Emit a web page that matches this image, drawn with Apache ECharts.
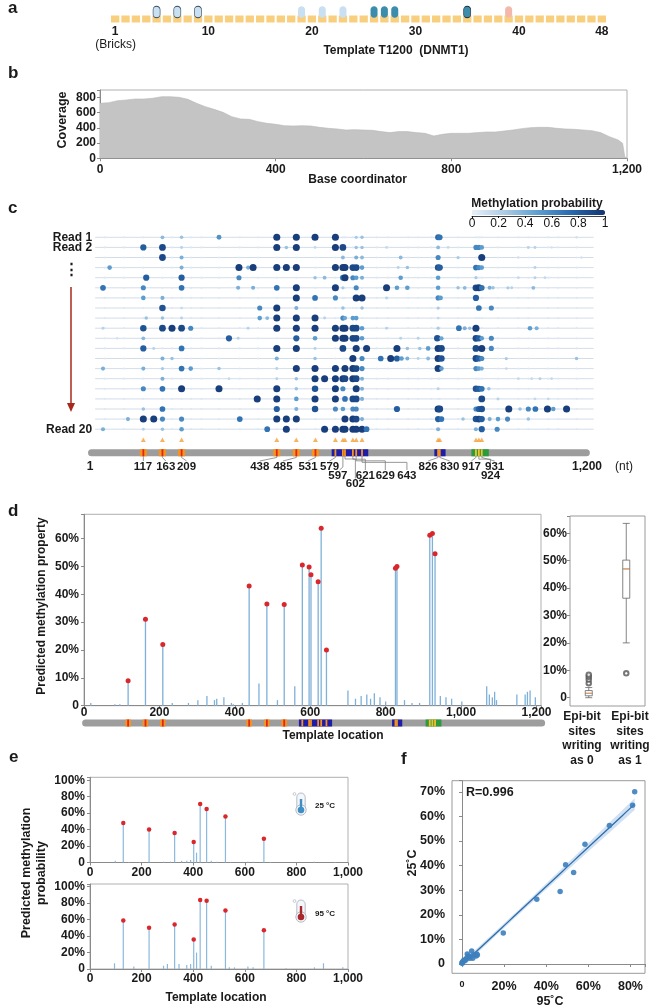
<!DOCTYPE html>
<html>
<head>
<meta charset="utf-8">
<script src="https://cdn.jsdelivr.net/npm/echarts@6/dist/echarts.min.js"></script>
<style>
  html, body { margin: 0; padding: 0; background: #fff; }
  #chart { width: 652px; height: 1008px; }
</style>
</head>
<body>
<div id="chart"></div>
<script>
// ---------- a: bricks of template T1200 ----------
const brickIds = [1,2,3,4,5,6,7,8,9,10,11,12,13,14,15,16,17,18,19,20,21,22,23,24,
  25,26,27,28,29,30,31,32,33,34,35,36,37,38,39,40,41,42,43,44,45,46,47,48];
const brickTicks = [1, 10, 20, 30, 40, 48];
const capsuleBricks = [5, 7, 9, 19, 21, 23, 26, 27, 28, 35, 39];
const capsuleKind = ['lightO', 'lightO', 'lightO', 'light', 'light', 'light', 'teal', 'teal', 'teal', 'tealO', 'pink'];

// ---------- b: coverage ----------
const coverPos = [0,20,40,60,80,100,120,140,160,180,200,220,240,260,280,300,320,340,360,380,400,
  420,440,460,480,500,520,540,560,580,600,620,640,660,680,700,720,740,760,780,800,820,840,860,880,
  900,920,940,960,980,1000,1020,1040,1060,1080,1100,1120,1140,1160,1180,1190,1195,1200];
const coverVal = [721,730,756,765,778,778,787,808,808,800,774,721,677,642,603,546,516,511,481,459,446,
  428,424,428,424,406,393,385,371,376,371,367,350,337,350,350,337,328,293,315,328,328,328,337,345,
  345,358,371,389,402,406,406,393,385,380,371,363,337,284,240,197,20,0];

// ---------- c: per-read methylation calls ----------
const epiSites = [117, 163, 209, 438, 485, 531, 579, 597, 602, 621, 629, 643, 826, 830, 917, 924, 931];
const siteLabelPos = [116, 171, 221, 397, 453, 513, 565, 585, 627, 651, 699, 751, 802, 854, 906, 952, 962];
const siteLabelRow = [1, 1, 1, 1, 1, 1, 1, 2, 3, 2, 2, 2, 1, 1, 1, 2, 1];
const redSites = [117, 163, 209, 438, 485, 531];
const templateBlocks = [[570, 658], [817, 844], [906, 948]];
const blockKinds = ['blue', 'blue', 'green'];
const bgSites = [24, 70, 117, 163, 186, 209, 232, 257, 299, 349, 393, 438, 485, 531, 579, 597, 602, 621,
  629, 643, 678, 706, 754, 778, 810, 826, 830, 874, 917, 924, 931, 970, 1019, 1043, 1091, 1115, 1159];
const readTickVals = [1, 2, 20];
const readTickText = ['Read 1', 'Read 2', 'Read 20'];
const probTicks = [0, 0.2, 0.4, 0.6, 0.8, 1];
const reads = [
  [[163,0.35],[209,0.3],[299,0.55],[438,0.95],[485,0.95],[530,0.95],[579,0.95],[629,0.25],[643,0.3],[826,0.75],[830,0.7],[1159,0.1]],
  [[117,0.8],[163,0.9],[209,0.2],[438,0.95],[461,0.3],[485,0.95],[530,0.15],[579,0.95],[597,0.9],[629,0.3],[643,0.3],[702,0.15],[826,0.35],[850,0.15],[917,0.6],[924,0.6],[931,0.5],[1043,0.2],[1059,0.2],[1099,0.1]],
  [[163,0.9],[209,0.4],[597,0.35],[629,0.4],[643,0.35],[736,0.35],[826,0.6],[874,0.25],[931,0.95],[1019,0.1],[1171,0.1]],
  [[36,0.5],[209,0.4],[347,0.95],[369,0.4],[381,0.95],[438,0.95],[461,0.95],[485,0.95],[579,0.95],[597,0.95],[602,0.95],[621,0.9],[629,0.9],[643,0.5],[730,0.2],[752,0.3],[826,0.85],[830,0.8],[917,0.7],[924,0.6],[931,0.5],[1059,0.2]],
  [[124,0.8],[209,0.8],[347,0.6],[530,0.3],[553,0.35],[597,0.7],[602,0.95],[621,0.6],[629,0.5],[643,0.4],[736,0.5],[826,0.5],[917,0.25],[1019,0.15],[1059,0.2],[1083,0.15]],
  [[20,0.7],[117,0.6],[209,0.7],[345,0.4],[381,0.4],[438,0.7],[485,0.95],[579,0.95],[597,0.25],[629,0.6],[702,0.95],[727,0.5],[752,0.5],[826,0.5],[874,0.3],[890,0.35],[917,0.9],[924,0.95],[931,0.7],[950,0.4],[958,0.3],[994,0.25],[1003,0.2],[1055,0.35]],
  [[117,0.5],[163,0.4],[485,0.95],[530,0.7],[579,0.6],[629,0.95],[643,0.95],[702,0.2],[826,0.6],[832,0.5],[917,0.8]],
  [[163,0.85],[209,0.15],[397,0.6],[438,0.95],[485,0.4],[597,0.3],[643,0.3],[826,0.25],[924,0.7],[954,0.6]],
  [[124,0.3],[163,0.3],[209,0.2],[397,0.5],[415,0.35],[438,0.95],[485,0.95],[530,0.95],[553,0.2],[597,0.6],[602,0.45],[621,0.5],[629,0.5],[826,0.15]],
  [[20,0.2],[117,0.85],[163,0.9],[186,0.95],[209,0.9],[231,0.6],[369,0.2],[438,0.95],[485,0.95],[530,0.95],[579,0.95],[597,0.95],[602,0.95],[621,0.9],[629,0.9],[643,0.5],[702,0.2],[826,0.25],[876,0.7],[890,0.4],[902,0.3],[917,0.95],[1047,0.5],[1063,0.4]],
  [[54,0.1],[117,0.35],[323,0.8],[345,0.2],[485,0.8],[530,0.5],[579,0.95],[597,0.95],[602,0.95],[621,0.9],[629,0.9],[643,0.5],[736,0.2],[778,0.2],[824,0.85],[834,0.45],[917,0.9],[924,0.8],[931,0.5],[954,0.6]],
  [[117,0.8],[142,0.2],[209,0.7],[438,0.95],[485,0.95],[530,0.2],[597,0.9],[629,0.95],[654,0.95],[727,0.95],[752,0.3],[782,0.3],[802,0.5],[826,0.95],[834,0.9],[917,0.9],[931,0.95],[954,0.6]],
  [[163,0.4],[186,0.3],[438,0.4],[530,0.3],[621,0.95],[643,0.6],[688,0.7],[712,0.95],[727,0.8],[738,0.5],[752,0.4],[778,0.2],[802,0.35],[826,0.95],[834,0.85],[917,0.9],[924,0.8],[931,0.6],[990,0.25],[1159,0.3]],
  [[20,0.4],[117,0.4],[163,0.25],[209,0.7],[231,0.5],[299,0.3],[438,0.2],[485,0.95],[530,0.95],[579,0.95],[602,0.95],[621,0.95],[629,0.9],[643,0.6],[826,0.95],[834,0.5],[917,0.6],[924,0.5],[931,0.4],[990,0.15]],
  [[163,0.4],[323,0.15],[438,0.2],[485,0.3],[530,0.95],[553,0.95],[579,0.95],[597,0.95],[602,0.9],[621,0.95],[629,0.9],[643,0.4],[1019,0.15],[1051,0.15],[1071,0.2],[1099,0.15]],
  [[117,0.6],[163,0.7],[209,0.95],[299,0.95],[438,0.95],[485,0.3],[530,0.85],[579,0.95],[597,0.6],[629,0.95],[643,0.4],[826,0.2],[917,0.85],[924,0.8],[931,0.7],[948,0.3]],
  [[391,0.95],[438,0.95],[485,0.5],[530,0.95],[579,0.95],[602,0.7],[621,0.9],[629,0.9],[643,0.4],[931,0.9],[970,0.2],[1059,0.15],[1091,0.15]],
  [[117,0.3],[163,0.7],[438,0.8],[485,0.4],[530,0.85],[579,0.6],[597,0.5],[621,0.6],[629,0.6],[727,0.8],[826,0.95],[830,0.9],[917,0.6],[924,0.8],[931,0.85],[996,0.95],[1023,0.3],[1043,0.6],[1060,0.7],[1089,0.95],[1103,0.5],[1135,0.95]],
  [[80,0.4],[117,0.95],[142,0.95],[163,0.6],[209,0.6],[349,0.7],[438,0.95],[461,0.95],[485,0.95],[602,0.95],[621,0.95],[629,0.9],[643,0.4],[826,0.8],[834,0.7],[886,0.3],[917,0.85],[924,0.9],[931,0.8],[950,0.4],[970,0.5],[993,0.6],[1043,0.3]],
  [[20,0.4],[117,0.2],[163,0.3],[209,0.5],[415,0.7],[461,0.95],[553,0.95],[579,0.95],[597,0.95],[602,0.95],[621,0.95],[629,0.95],[643,0.95],[654,0.7],[826,0.4],[917,0.4],[931,0.8],[968,0.6]]
];

// ---------- d: predicted methylation per template location ----------
const dPeakVal = [0.09, 0.31, 0.22, 0.43, 0.365, 0.363, 0.505, 0.498, 0.47, 0.445, 0.637, 0.20, 0.493, 0.50, 0.612, 0.618, 0.545];
const dMinorPos = [18, 82, 95, 234, 277, 302, 326, 346, 352, 371, 391, 396, 420, 464, 513, 559, 700, 720, 735, 750,
  760, 770, 785, 800, 850, 870, 890, 945, 960, 975, 1002, 1068, 1075, 1083, 1089, 1094, 1148, 1170, 1176, 1183, 1197];
const dMinorVal = [0.01, 0.005, 0.005, 0.01, 0.01, 0.02, 0.035, 0.02, 0.025, 0.03, 0.01, 0.005, 0.01, 0.08, 0.02, 0.07,
  0.055, 0.025, 0.035, 0.04, 0.025, 0.045, 0.03, 0.015, 0.02, 0.01, 0.01, 0.035, 0.03, 0.025, 0.015, 0.07, 0.04, 0.03,
  0.05, 0.02, 0.04, 0.04, 0.05, 0.055, 0.03];
const boxCats = ['Epi-bit\nsites\nwriting\nas 0', 'Epi-bit\nsites\nwriting\nas 1'];
const box0 = [0, 0.007, 0.016, 0.026, 0.037];
const box1 = [0.20, 0.363, 0.47, 0.502, 0.636];
const out0 = [0.053, 0.066, 0.076, 0.084];
const out1 = [0.089];

// ---------- e: 25 °C vs 95 °C ----------
const ePeakPos = [129, 229, 328, 402, 427, 452, 525, 674];
const e25PeakVal = [0.48, 0.40, 0.36, 0.25, 0.71, 0.65, 0.56, 0.29];
const e95PeakVal = [0.59, 0.50, 0.54, 0.36, 0.84, 0.83, 0.71, 0.47];
const e25MinorPos = [98, 150, 192, 285, 312, 355, 375, 390, 413, 470, 492, 545, 612, 632, 700, 870, 950];
const e25MinorVal = [0.02, 0.005, 0.005, 0.01, 0.01, 0.02, 0.02, 0.03, 0.12, 0.02, 0.01, 0.005, 0.01, 0.01, 0.005, 0.01, 0.005];
const e95MinorPos = [95, 170, 285, 300, 345, 375, 390, 413, 470, 540, 560, 612, 632, 760, 870, 905, 980];
const e95MinorVal = [0.07, 0.03, 0.04, 0.06, 0.06, 0.05, 0.06, 0.20, 0.04, 0.02, 0.02, 0.03, 0.02, 0.01, 0.02, 0.07, 0.02];

// ---------- f: 95 °C (x) vs 25 °C (y) ----------
const f95 = [0.82, 0.81, 0.70, 0.584, 0.492, 0.53, 0.466, 0.355, 0.196,
  0.046, 0.025, 0.035, 0.054, 0.07, 0.022, 0.01, 0.003, 0, 0.014, 0.038, 0.067, 0.051, 0.03, 0.019, 0.073, 0.006, 0];
const f25 = [0.70, 0.645, 0.563, 0.487, 0.403, 0.372, 0.295, 0.263, 0.126,
  0.053, 0.041, 0.030, 0.037, 0.041, 0.023, 0.016, 0.008, 0.003, 0.014, 0.023, 0.033, 0.023, 0.033, 0.019, 0.037, 0.012, 0.005];

// ---------- helpers ----------
const FONT = '"Liberation Sans", Arial, Helvetica, sans-serif';
const INK = '#1a1a1a';
const lab = { fontFamily: FONT, fontWeight: 'bold', fontSize: 12, color: INK };
const onStep = (v, step) => Math.abs(v / step - Math.round(v / step)) < 1e-6;
const pct = step => v => (onStep(v, step) ? (Math.abs(v) < 1e-9 ? '0' : Math.round(v * 100) + '%') : '');
const thousands = step => v => (onStep(v, step) ? Math.round(v).toLocaleString('en-US') : '');
const hiddenAxis = (gi, min, max) => ({ gridIndex: gi, type: 'value', min, max, show: false });
const frameAxisLine = { show: true, lineStyle: { color: '#8a8a8a', width: 1 } };
const tick = { show: true, length: 3, lineStyle: { color: '#8a8a8a' } };

function txt(text, x, y, opt = {}) {
  return {
    type: 'text', x, y, rotation: opt.rot || 0, silent: true, z: 50,
    style: {
      text, x: 0, y: 0, fill: opt.color || INK,
      font: (opt.weight || 'bold') + ' ' + (opt.size || 12) + 'px ' + FONT,
      lineHeight: opt.lineHeight,
      textAlign: opt.align || 'center', align: opt.align || 'center',
      textVerticalAlign: 'middle', verticalAlign: 'middle'
    }
  };
}

function templateSeries(ai, yMid, half, ends, siteW) {
  const base = { type: 'custom', xAxisIndex: ai, yAxisIndex: ai, silent: true, clip: false };
  const band = api => {
    const a = api.coord([0, yMid - half])[1], b = api.coord([0, yMid + half])[1];
    return [Math.min(a, b), Math.abs(a - b)];
  };
  const px = (api, v) => api.coord([v, yMid])[0];
  const blockSites = epiSites.filter(s => redSites.indexOf(s) < 0);
  return [
    Object.assign({}, base, { z: 3, data: [ends], renderItem: (p, api) => {
      const [y, h] = band(api); const x0 = px(api, api.value(0)), x1 = px(api, api.value(1));
      return { type: 'rect', shape: { x: x0, y, width: x1 - x0, height: h, r: h / 2 }, style: { fill: '#9d9d9d' } };
    } }),
    Object.assign({}, base, { z: 4, data: templateBlocks.map((b, i) => [b[0], b[1], blockKinds[i] === 'blue' ? 0 : 1]),
      renderItem: (p, api) => {
        const [y, h] = band(api); const x0 = px(api, api.value(0)), x1 = px(api, api.value(1));
        return { type: 'rect', shape: { x: x0, y, width: x1 - x0, height: h }, style: { fill: api.value(2) ? '#2e9a3e' : '#1f1ca8' } };
      } }),
    Object.assign({}, base, { z: 5, data: redSites.map(s => [s, 0]), renderItem: (p, api) => {
      const [y, h] = band(api); const x = px(api, api.value(0));
      return { type: 'group', children: [
        { type: 'rect', shape: { x: x - siteW / 2, y, width: siteW, height: h }, style: { fill: '#f7941d' } },
        { type: 'rect', shape: { x: x - 0.9, y, width: 1.8, height: h }, style: { fill: '#e0261b' } }
      ] };
    } }),
    Object.assign({}, base, { z: 5, data: blockSites.map(s => [s, s > 900 ? 1 : 0]), renderItem: (p, api) => {
      const [y, h] = band(api); const x = px(api, api.value(0));
      return { type: 'rect', shape: { x: x - 0.9, y, width: 1.8, height: h }, style: { fill: api.value(1) ? '#f2c12e' : '#f7941d' } };
    } })
  ];
}

// ---------- assemble ----------
const chart = echarts.init(document.getElementById('chart'));

const capStyle = {
  light: { color: '#c8e0f1' },
  lightO: { color: '#c8e0f1', borderColor: '#34485c', borderWidth: 0.8 },
  teal: { color: '#3c8dab' },
  tealO: { color: '#3c8dab', borderColor: '#1d2b3a', borderWidth: 0.8 },
  pink: { color: '#f3b8ab' }
};

const dotData = [];
reads.forEach((dots, i) => bgSites.forEach(s => dotData.push([s, i + 1, 0.05])));
reads.forEach((dots, i) => dots.forEach(d => dotData.push([d[0], i + 1, d[1]])));

const dSticks = epiSites.map((s, i) => [s, dPeakVal[i]]).concat(dMinorPos.map((s, i) => [s, dMinorVal[i]]));
const e25Sticks = ePeakPos.map((s, i) => [s, e25PeakVal[i]]).concat(e25MinorPos.map((s, i) => [s, e25MinorVal[i]]));
const e95Sticks = ePeakPos.map((s, i) => [s, e95PeakVal[i]]).concat(e95MinorPos.map((s, i) => [s, e95MinorVal[i]]));

// linear fit and 95% band for f
const n = f95.length;
const mx = f95.reduce((a, b) => a + b, 0) / n, my = f25.reduce((a, b) => a + b, 0) / n;
let sxx = 0, sxy = 0;
f95.forEach((x, i) => { sxx += (x - mx) * (x - mx); sxy += (x - mx) * (f25[i] - my); });
const slope = sxy / sxx, icpt = my - slope * mx;
let sse = 0;
f95.forEach((x, i) => { const r = f25[i] - (icpt + slope * x); sse += r * r; });
const sRes = Math.sqrt(sse / (n - 2));
const xMaxFit = Math.max.apply(null, f95);
const fitX = [];
for (let k = 0; k <= 40; k++) fitX.push(xMaxFit * k / 40);
const fitY = fitX.map(x => icpt + slope * x);
const halfW = fitX.map(x => 2.06 * sRes * Math.sqrt(1 / n + (x - mx) * (x - mx) / sxx));

const series = [];
// a
series.push({ type: 'scatter', xAxisIndex: 0, yAxisIndex: 0, silent: true, symbol: 'rect', symbolSize: [8.3, 7],
  itemStyle: { color: '#f8cf7e', opacity: 1 }, data: brickIds.map(b => [String(b), 0.35]) });
series.push({ type: 'scatter', xAxisIndex: 0, yAxisIndex: 0, silent: true, z: 3,
  symbol: 'path://M4,0 C6.2,0 8,1.8 8,4 L8,10 C8,12.2 6.2,14 4,14 C1.8,14 0,12.2 0,10 L0,4 C0,1.8 1.8,0 4,0 Z',
  symbolSize: [7, 11.5],
  data: capsuleBricks.map((b, i) => ({ value: [String(b), 0.7], itemStyle: Object.assign({ opacity: 1 }, capStyle[capsuleKind[i]]) })) });
// b
series.push({ type: 'line', xAxisIndex: 1, yAxisIndex: 1, silent: true, showSymbol: false, symbol: 'none',
  lineStyle: { width: 0.6, color: '#b8b8b8' }, areaStyle: { color: '#c4c4c4', opacity: 1 },
  data: coverPos.map((p, i) => [p, coverVal[i]]) });
// c
series.push({ type: 'custom', xAxisIndex: 2, yAxisIndex: 2, silent: true, z: 2,
  data: reads.map((r, i) => [1, i + 1]),
  renderItem: (p, api) => {
    const a = api.coord([1, api.value(1)]), b = api.coord([1200, api.value(1)]);
    return { type: 'line', shape: { x1: a[0], y1: a[1], x2: b[0], y2: b[1] }, style: { stroke: '#c6d4e2', lineWidth: 0.8 } };
  } });
const dotsIdx = series.length;
series.push({ type: 'scatter', xAxisIndex: 2, yAxisIndex: 2, silent: true, z: 4, clip: false,
  symbolSize: v => 1.9 + 5.4 * v[2], itemStyle: { opacity: 1 }, data: dotData });
series.push({ type: 'scatter', xAxisIndex: 2, yAxisIndex: 2, silent: true, z: 4, clip: false,
  symbol: 'triangle', symbolSize: [5, 4.5], itemStyle: { color: '#f5a13b' },
  data: epiSites.map(s => [s, 21.05]) });
templateSeries(2, 22.33, 0.35, [-16, 1191], 7).forEach(s => series.push(s));
series.push({ type: 'custom', xAxisIndex: 2, yAxisIndex: 2, silent: true, z: 6, clip: false,
  data: epiSites.map((s, i) => [s, siteLabelRow[i], siteLabelPos[i]]),
  renderItem: (p, api) => {
    const s = api.value(0), row = api.value(1), lx = api.value(2);
    const top = [23.15, 24.04, 24.88][row - 1], mid = [23.71, 24.6, 25.45][row - 1];
    const barB = 22.68;
    let pts;
    if (row === 1) pts = Math.abs(lx - s) < 4 ? [[s, barB], [s, top]] : [[s, barB], [s, 22.8], [lx, top]];
    else if (lx > s + 10) { const e = 22.85 + (lx - s) * 0.004; pts = [[s, barB], [s, e], [lx, e], [lx, top]]; }
    else pts = [[s, barB], [s, top - 0.3], [lx + 4, top]];
    const c = api.coord([lx, mid]);
    return { type: 'group', children: [
      { type: 'polyline', shape: { points: pts.map(q => api.coord(q)) }, style: { stroke: '#7d7d7d', lineWidth: 0.8, fill: null } },
      { type: 'text', x: c[0], y: c[1], style: { text: String(s), fill: INK, font: 'bold 11.5px ' + FONT,
        textAlign: 'center', align: 'center', textVerticalAlign: 'middle', verticalAlign: 'middle' } }
    ] };
  } });
// d
series.push({ type: 'bar', xAxisIndex: 4, yAxisIndex: 4, silent: true, barWidth: 1.3,
  itemStyle: { color: '#7fb0d8' }, data: dSticks });
series.push({ type: 'scatter', xAxisIndex: 4, yAxisIndex: 4, silent: true, z: 5, symbolSize: 5,
  itemStyle: { color: '#d9272c', opacity: 1 }, data: epiSites.map((s, i) => [s, dPeakVal[i]]) });
templateSeries(5, 0.5, 0.5, [-5, 1223], 5.5).forEach(s => series.push(s));
// box plot
series.push({ type: 'boxplot', xAxisIndex: 7, yAxisIndex: 7, silent: true, boxWidth: [7, 7],
  itemStyle: { color: '#fff', borderColor: '#666', borderWidth: 0.8 }, data: [box0, box1] });
series.push({ type: 'scatter', xAxisIndex: 7, yAxisIndex: 7, silent: true, z: 5, symbol: 'rect', symbolSize: [6, 1.2],
  itemStyle: { color: '#f0a35c' }, data: [[0, box0[2]], [1, box1[2]]] });
series.push({ type: 'scatter', xAxisIndex: 7, yAxisIndex: 7, silent: true, z: 5, symbol: 'emptyCircle', symbolSize: 4.5,
  itemStyle: { color: '#555', borderWidth: 0.7 }, data: out0.map(v => [0, v]).concat(out1.map(v => [1, v])) });
// e
[[8, e25Sticks, e25PeakVal], [9, e95Sticks, e95PeakVal]].forEach(([ai, sticks, peaks]) => {
  series.push({ type: 'bar', xAxisIndex: ai, yAxisIndex: ai, silent: true, barWidth: 1.2,
    itemStyle: { color: '#8bb9de' }, data: sticks });
  series.push({ type: 'scatter', xAxisIndex: ai, yAxisIndex: ai, silent: true, z: 5, symbolSize: 4.5,
    itemStyle: { color: '#d9272c', opacity: 1 }, data: ePeakPos.map((s, i) => [s, peaks[i]]) });
});
// f
series.push({ type: 'custom', xAxisIndex: 11, yAxisIndex: 11, silent: true, z: 2, data: [[0, 0]],
  renderItem: (p, api) => {
    const up = fitX.map((x, i) => api.coord([x, fitY[i] + halfW[i]]));
    const lo = fitX.map((x, i) => api.coord([x, fitY[i] - halfW[i]])).reverse();
    return { type: 'polygon', shape: { points: up.concat(lo) }, style: { fill: 'rgba(120,170,220,0.35)' } };
  } });
series.push({ type: 'line', xAxisIndex: 11, yAxisIndex: 11, silent: true, z: 3, showSymbol: false, symbol: 'none',
  lineStyle: { color: '#2e6da9', width: 1.3 }, data: fitX.map((x, i) => [x, fitY[i]]) });
series.push({ type: 'scatter', xAxisIndex: 11, yAxisIndex: 11, silent: true, z: 4, symbolSize: 5.5,
  itemStyle: { color: '#3d7fbe', opacity: 0.9 }, data: f95.map((x, i) => [x, f25[i]]) });

const xAxis = [
  { gridIndex: 0, type: 'category', data: brickIds.map(String), axisLine: { show: false }, axisTick: { show: false },
    axisLabel: Object.assign({}, lab, { margin: 0, interval: (i, v) => brickTicks.indexOf(+v) >= 0 }) },
  { gridIndex: 1, type: 'value', min: 0, max: 1200, interval: 400, axisLine: frameAxisLine, axisTick: tick,
    splitLine: { show: false }, axisLabel: Object.assign({}, lab, { margin: 5, formatter: thousands(400) }) },
  hiddenAxis(2, 1, 1200),
  { gridIndex: 3, type: 'value', min: 0, max: 1, interval: 0.2, axisLine: { show: true, lineStyle: { color: '#111', width: 0.8 } },
    axisTick: { show: true, length: 2, lineStyle: { color: '#111' } }, splitLine: { show: false },
    axisLabel: { fontFamily: FONT, fontSize: 12, color: '#111', margin: 2,
      formatter: v => { const k = probTicks.findIndex(t => Math.abs(t - v) < 1e-6); return k >= 0 ? String(probTicks[k]) : ''; } } },
  { gridIndex: 4, type: 'value', min: 0, max: 1212, interval: 200, axisLine: frameAxisLine, axisTick: tick,
    splitLine: { show: false }, axisLabel: Object.assign({}, lab, { margin: 1, formatter: thousands(200) }) },
  hiddenAxis(5, 0, 1212),
  hiddenAxis(6, 0, 1),
  { gridIndex: 7, type: 'category', data: boxCats, axisLine: { show: false }, axisTick: { show: false },
    axisLabel: { show: false } },
  { gridIndex: 8, type: 'value', min: 0, max: 1000, interval: 200, axisLine: frameAxisLine, axisTick: tick,
    splitLine: { show: false }, axisLabel: Object.assign({}, lab, { margin: 4, formatter: thousands(200) }) },
  { gridIndex: 9, type: 'value', min: 0, max: 1000, interval: 200, axisLine: frameAxisLine, axisTick: tick,
    splitLine: { show: false }, axisLabel: Object.assign({}, lab, { margin: 4, formatter: thousands(200) }) },
  hiddenAxis(10, 0, 1),
  { gridIndex: 11, type: 'value', min: 0, max: 0.869, interval: 0.2, offset: 9.3, axisLine: frameAxisLine,
    axisTick: tick, splitLine: { show: false },
    axisLabel: Object.assign({}, lab, { fontSize: 12.5, margin: 7,
      formatter: v => (Math.abs(v) < 1e-9 ? '{s|0}' : pct(0.2)(v)), rich: { s: { fontSize: 9, fontFamily: FONT, fontWeight: 'bold', color: INK } } }) }
];

const yAxis = [
  hiddenAxis(0, 0, 1),
  { gridIndex: 1, type: 'value', min: 0, max: 896, interval: 200, axisLine: frameAxisLine, axisTick: tick,
    splitLine: { show: false }, axisLabel: Object.assign({}, lab, { margin: 4, formatter: v => (onStep(v, 200) ? String(v) : '') }) },
  { gridIndex: 2, type: 'value', inverse: true, min: 0, max: 24, interval: 1, axisLine: { show: false },
    axisTick: { show: false }, splitLine: { show: false },
    axisLabel: Object.assign({}, lab, { margin: 3, formatter: v => { const k = readTickVals.indexOf(v); return k >= 0 ? readTickText[k] : ''; } }) },
  hiddenAxis(3, 0, 1),
  { gridIndex: 4, type: 'value', min: 0, max: 0.687, interval: 0.1, axisLine: frameAxisLine, axisTick: tick,
    splitLine: { show: false }, axisLabel: Object.assign({}, lab, { margin: 5, formatter: pct(0.1) }) },
  hiddenAxis(5, 0, 1),
  hiddenAxis(6, 0, 1),
  { gridIndex: 7, type: 'value', min: 0, max: 0.663, interval: 0.1, axisLine: { show: false }, axisTick: tick,
    splitLine: { show: false }, axisLabel: Object.assign({}, lab, { margin: 3, formatter: pct(0.1) }) },
  { gridIndex: 8, type: 'value', min: 0, max: 1.036, interval: 0.2, axisLine: frameAxisLine, axisTick: tick,
    splitLine: { show: false }, axisLabel: Object.assign({}, lab, { margin: 5, formatter: pct(0.2) }) },
  { gridIndex: 9, type: 'value', min: 0, max: 1.033, interval: 0.2, axisLine: frameAxisLine, axisTick: tick,
    splitLine: { show: false }, axisLabel: Object.assign({}, lab, { margin: 5, formatter: pct(0.2) }) },
  hiddenAxis(10, 0, 1),
  { gridIndex: 11, type: 'value', min: 0, max: 0.745, interval: 0.1, offset: 10, axisLine: frameAxisLine,
    axisTick: tick, splitLine: { show: false }, axisLabel: Object.assign({}, lab, { fontSize: 12.5, margin: 7, formatter: pct(0.1) }) }
];

const grid = [
  { left: 110, top: 6, width: 497, height: 20 },
  { left: 100, top: 90, width: 527, height: 68.3, show: true, borderColor: '#b0b0b0', borderWidth: 1 },
  { left: 95.1, top: 227.2, width: 498.5, height: 242.4 },
  { left: 472, top: 215, width: 133, height: 1 },
  { left: 84, top: 514.3, width: 457, height: 191.4, show: true, borderColor: '#b0b0b0', borderWidth: 1 },
  { left: 84, top: 719.5, width: 457, height: 7 },
  { left: 570, top: 516, width: 75, height: 190, show: true, borderColor: '#9a9a9a', borderWidth: 1 },
  { left: 570, top: 516, width: 75, height: 181.7 },
  { left: 90, top: 777.3, width: 258, height: 85.2, show: true, borderColor: '#b0b0b0', borderWidth: 1 },
  { left: 90, top: 884, width: 258, height: 85, show: true, borderColor: '#b0b0b0', borderWidth: 1 },
  { left: 452, top: 780.7, width: 193, height: 192.6, show: true, borderColor: '#9a9a9a', borderWidth: 1 },
  { left: 462, top: 780.7, width: 183, height: 183.3 }
];

function thermo(cx, cy, color) {
  return { type: 'group', x: cx, y: cy, silent: true, z: 50, children: [
    { type: 'rect', shape: { x: -4.2, y: -11, width: 8.4, height: 18, r: 4.2 }, style: { fill: '#f3f6fa', stroke: '#a6adb5', lineWidth: 0.8 } },
    { type: 'circle', shape: { cx: 0, cy: 6, r: 5.2 }, style: { fill: '#f3f6fa', stroke: '#a6adb5', lineWidth: 0.8 } },
    { type: 'rect', shape: { x: -1.2, y: -5, width: 2.4, height: 10 }, style: { fill: color } },
    { type: 'circle', shape: { cx: 0, cy: 6, r: 3.3 }, style: { fill: color } },
    { type: 'circle', shape: { cx: -6.5, cy: -10, r: 1.4 }, style: { fill: 'none', stroke: '#a6adb5', lineWidth: 0.6 } }
  ] };
}

const graphic = [
  txt('a', 8, 8, { size: 17, align: 'left' }),
  txt('b', 8, 73, { size: 17, align: 'left' }),
  txt('c', 8, 208, { size: 17, align: 'left' }),
  txt('d', 8, 511, { size: 17, align: 'left' }),
  txt('e', 9, 757, { size: 17, align: 'left' }),
  txt('f', 401, 759, { size: 17, align: 'left' }),
  txt('(Bricks)', 115.6, 44.3, { weight: 'normal', size: 12 }),
  txt('Template T1200  (DNMT1)', 396, 50.7, { size: 12 }),
  txt('Coverage', 62.8, 120, { rot: Math.PI / 2, size: 12.5 }),
  txt('Base coordinator', 357.7, 180, { size: 12 }),
  txt('Methylation probability', 537, 203.3, { size: 12 }),
  txt('\u22ee', 71, 270, { size: 15 }),
  { type: 'line', silent: true, shape: { x1: 71, y1: 287, x2: 71, y2: 405 }, style: { stroke: '#a8281c', lineWidth: 1.5 } },
  { type: 'polygon', silent: true, shape: { points: [[67, 403], [75, 403], [71, 412]] }, style: { fill: '#a8281c' } },
  txt('1', 90, 466.7, { size: 12 }),
  txt('1,200', 587, 466.7, { size: 12 }),
  txt('(nt)', 624, 466.7, { weight: 'normal', size: 12 }),
  txt('Predicted methylation property', 42, 606, { rot: Math.PI / 2, size: 12 }),
  txt('Template location', 333, 736, { size: 12 }),
  txt(boxCats[0], 582, 738.5, { size: 12, lineHeight: 14.5 }),
  txt(boxCats[1], 630, 738.5, { size: 12, lineHeight: 14.5 }),
  txt('Predicted methylation', 26.7, 873, { rot: Math.PI / 2, size: 12.5 }),
  txt('probability', 41.7, 873, { rot: Math.PI / 2, size: 12.5 }),
  txt('Template location', 216, 998, { size: 12 }),
  thermo(301, 804, '#3d8fc6'),
  thermo(301, 911, '#a8282c'),
  txt('25 \u00b0C', 315, 806, { size: 8, align: 'left' }),
  txt('95 \u00b0C', 315, 914, { size: 8, align: 'left' }),
  txt('R=0.996', 466, 792.7, { size: 12.5, align: 'left' }),
  txt('25\u02daC', 413, 863, { rot: Math.PI / 2, size: 12.5 }),
  txt('95\u02daC', 550, 1001.7, { size: 12.5 })
];

chart.setOption({
  animation: false,
  backgroundColor: '#fff',
  textStyle: { fontFamily: FONT },
  grid, xAxis, yAxis, series, graphic,
  visualMap: [{
    type: 'continuous', seriesIndex: dotsIdx, dimension: 2, min: 0, max: 1,
    orient: 'horizontal', left: 472, top: 210, itemWidth: 5, itemHeight: 133,
    calculable: false, hoverLink: false, padding: 0, showLabel: false,
    inRange: { color: ['#e9f1f9', '#a9cbe6', '#5b9dcf', '#2868ad', '#14346f'] }
  }]
});

window.addEventListener('resize', () => chart.resize());
</script>
</body>
</html>
